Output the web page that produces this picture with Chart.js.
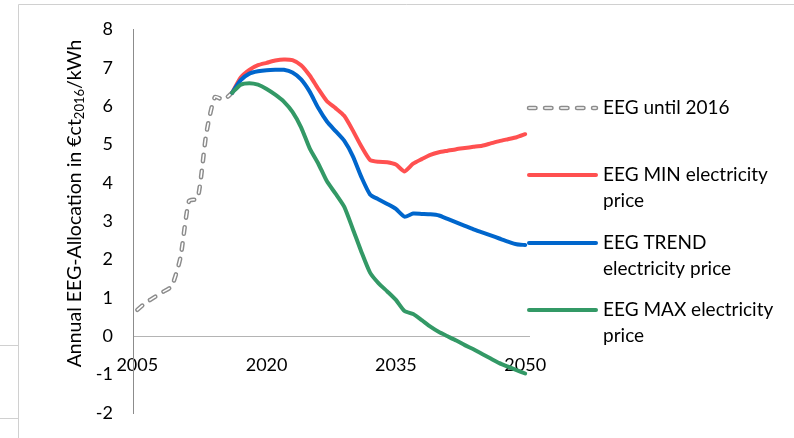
<!DOCTYPE html>
<html>
<head>
<meta charset="utf-8">
<script src="https://cdn.jsdelivr.net/npm/chart.js@4.4.1/dist/chart.umd.min.js"></script>
<style>
  html, body { margin: 0; padding: 0; background: #ffffff; }
  #wrap { width: 794px; height: 438px; position: relative; }
</style>
</head>
<body>
<div id="wrap"><canvas id="c" width="794" height="438"></canvas></div>
<script>
// EEG allocation (ct/kWh, 2016 prices): history and three price scenarios
const histYears = [2005, 2006, 2007, 2008, 2009, 2010, 2011, 2012, 2013, 2014, 2015, 2016];
const eegHistory = [0.69, 0.88, 1.02, 1.16, 1.31, 2.05, 3.53, 3.59, 5.28, 6.24, 6.17, 6.35];

const projYears = [2016, 2017, 2018, 2019, 2020, 2021, 2022, 2023, 2024, 2025,
                   2026, 2027, 2028, 2029, 2030, 2031, 2032, 2033, 2034, 2035,
                   2036, 2037, 2038, 2039, 2040, 2041, 2042, 2043, 2044, 2045,
                   2046, 2047, 2048, 2049, 2050];
const eegMin = [6.35, 6.75, 6.95, 7.07, 7.13, 7.19, 7.22, 7.20, 7.07, 6.80,
                6.45, 6.13, 5.95, 5.75, 5.37, 4.95, 4.60, 4.55, 4.54, 4.48,
                4.30, 4.50, 4.62, 4.73, 4.80, 4.84, 4.88, 4.91, 4.94, 4.97,
                5.03, 5.09, 5.14, 5.19, 5.27];
const eegTrend = [6.35, 6.68, 6.85, 6.91, 6.94, 6.95, 6.95, 6.88, 6.70, 6.38,
                  5.95, 5.60, 5.35, 5.10, 4.70, 4.15, 3.70, 3.57, 3.45, 3.32,
                  3.12, 3.20, 3.19, 3.18, 3.15, 3.06, 2.97, 2.88, 2.79, 2.71,
                  2.63, 2.55, 2.47, 2.40, 2.38];
const eegMax = [6.35, 6.56, 6.60, 6.56, 6.45, 6.30, 6.12, 5.85, 5.45, 4.90,
                4.50, 4.04, 3.72, 3.38, 2.80, 2.20, 1.66, 1.38, 1.17, 0.95,
                0.66, 0.58, 0.42, 0.25, 0.11, 0.00, -0.11, -0.23, -0.34, -0.46,
                -0.58, -0.70, -0.79, -0.88, -0.97];

const xTickYears = [2005, 2020, 2035, 2050];
const legendLabels = [
  ['EEG until 2016'],
  ['EEG MIN electricity', 'price'],
  ['EEG TREND', 'electricity price'],
  ['EEG MAX electricity', 'price']
];
const axisTitleParts = ['Annual EEG-Allocation in €ct', '2016', '/kWh'];

const FONT = 'Lato, "Open Sans", sans-serif';
const RED = '#ff5050', BLUE = '#0066cc', GREEN = '#339966', GREY = '#8c8c8c';
const DASH = [6.5, 9.5];

const pts = (xs, ys) => xs.map((x, i) => ({ x: x, y: ys[i] }));

// legend on the right, drawn by hand so that labels can wrap
const sideLegend = {
  id: 'sideLegend',
  afterDraw(chart) {
    const ctx = chart.ctx;
    const x0 = 527, x1 = 596, tx = 603, lh = 26;
    const rows = [
      { y: 108, label: legendLabels[0], dashed: true },
      { y: 175, label: legendLabels[1], color: RED },
      { y: 243, label: legendLabels[2], color: BLUE },
      { y: 310, label: legendLabels[3], color: GREEN }
    ];
    ctx.save();
    rows.forEach(r => {
      ctx.lineCap = 'round';
      if (r.dashed) {
        ctx.setLineDash(DASH);
        ctx.strokeStyle = GREY; ctx.lineWidth = 4.5;
        ctx.beginPath(); ctx.moveTo(x0 + 2, r.y); ctx.lineTo(x1, r.y); ctx.stroke();
        ctx.strokeStyle = '#ffffff'; ctx.lineWidth = 1.6;
        ctx.beginPath(); ctx.moveTo(x0 + 2, r.y); ctx.lineTo(x1, r.y); ctx.stroke();
        ctx.setLineDash([]);
      } else {
        ctx.strokeStyle = r.color; ctx.lineWidth = 4;
        ctx.beginPath(); ctx.moveTo(x0 + 2, r.y); ctx.lineTo(x1, r.y); ctx.stroke();
      }
      ctx.fillStyle = '#000000';
      ctx.font = '19px ' + FONT;
      ctx.textAlign = 'left'; ctx.textBaseline = 'middle';
      r.label.forEach((t, i) => ctx.fillText(t, tx, r.y + i * lh));
    });
    ctx.restore();
  }
};

// rotated y-axis title with subscript year
const axisTitle = {
  id: 'axisTitle',
  afterDraw(chart) {
    const ctx = chart.ctx;
    ctx.save();
    ctx.translate(75, 203.5);
    ctx.rotate(-Math.PI / 2);
    ctx.fillStyle = '#000000';
    ctx.textBaseline = 'middle';
    ctx.textAlign = 'left';
    const big = '19.5px ' + FONT, small = '13px ' + FONT;
    ctx.font = big; const w1 = ctx.measureText(axisTitleParts[0]).width;
    const w3 = ctx.measureText(axisTitleParts[2]).width;
    ctx.font = small; const w2 = ctx.measureText(axisTitleParts[1]).width;
    let x = -(w1 + w2 + w3) / 2;
    ctx.font = big; ctx.fillText(axisTitleParts[0], x, 0); x += w1;
    ctx.font = small; ctx.fillText(axisTitleParts[1], x, 5); x += w2;
    ctx.font = big; ctx.fillText(axisTitleParts[2], x, 0);
    ctx.restore();
  }
};

// thin sheet borders around the chart object
const sheetLines = {
  id: 'sheetLines',
  beforeDraw(chart) {
    const ctx = chart.ctx;
    ctx.save();
    ctx.fillStyle = '#ffffff';
    ctx.fillRect(0, 0, chart.width, chart.height);
    ctx.strokeStyle = '#d0d0d0';
    ctx.lineWidth = 1;
    ctx.beginPath();
    ctx.moveTo(18.5, 438); ctx.lineTo(18.5, 4.5); ctx.lineTo(794, 4.5);
    ctx.moveTo(0, 345.5); ctx.lineTo(18.5, 345.5);
    ctx.moveTo(0, 418.5); ctx.lineTo(18.5, 418.5);
    ctx.stroke();
    ctx.restore();
  }
};

const lineBase = { fill: false, pointRadius: 0, pointHoverRadius: 0, tension: 0.2, borderCapStyle: 'round', borderJoinStyle: 'round' };

new Chart(document.getElementById('c'), {
  type: 'line',
  data: {
    datasets: [
      Object.assign({ label: 'EEG MAX electricity price', data: pts(projYears, eegMax), borderColor: GREEN, borderWidth: 4 }, lineBase),
      Object.assign({ label: 'EEG TREND electricity price', data: pts(projYears, eegTrend), borderColor: BLUE, borderWidth: 4 }, lineBase),
      Object.assign({ label: 'EEG MIN electricity price', data: pts(projYears, eegMin), borderColor: RED, borderWidth: 4 }, lineBase),
      Object.assign({ label: 'EEG until 2016 inner', data: pts(histYears, eegHistory), borderColor: '#ffffff', borderWidth: 1.6, borderDash: DASH }, lineBase),
      Object.assign({ label: 'EEG until 2016', data: pts(histYears, eegHistory), borderColor: GREY, borderWidth: 4.5, borderDash: DASH }, lineBase)
    ]
  },
  options: {
    responsive: false,
    animation: false,
    events: [],
    layout: { padding: { left: 0, top: 29.5, right: 264.5, bottom: 25 } },
    plugins: { legend: { display: false }, tooltip: { enabled: false }, title: { display: false } },
    scales: {
      x: {
        type: 'linear',
        min: 2004.5,
        max: 2050.5,
        position: { y: 0 },
        afterBuildTicks(scale) { scale.ticks = xTickYears.map(v => ({ value: v })); },
        afterFit(scale) { scale.height = 0; scale.paddingLeft = 0; scale.paddingRight = 0; },
        grid: { display: false, drawTicks: false },
        border: { display: true, color: '#b4b4b4', width: 1 },
        ticks: {
          autoSkip: false, maxRotation: 0, padding: 18,
          color: '#000000', font: { family: FONT, size: 18 },
          callback: v => String(v)
        }
      },
      y: {
        min: -2,
        max: 8,
        afterFit(scale) { scale.width = 133; scale.paddingTop = 0; scale.paddingBottom = 0; },
        grid: { display: false, drawTicks: false },
        border: { display: true, color: '#8c8c8c', width: 1 },
        ticks: {
          stepSize: 1, padding: 20,
          color: '#000000', font: { family: FONT, size: 18 }
        }
      }
    }
  },
  plugins: [sheetLines, sideLegend, axisTitle]
});
</script>
</body>
</html>
